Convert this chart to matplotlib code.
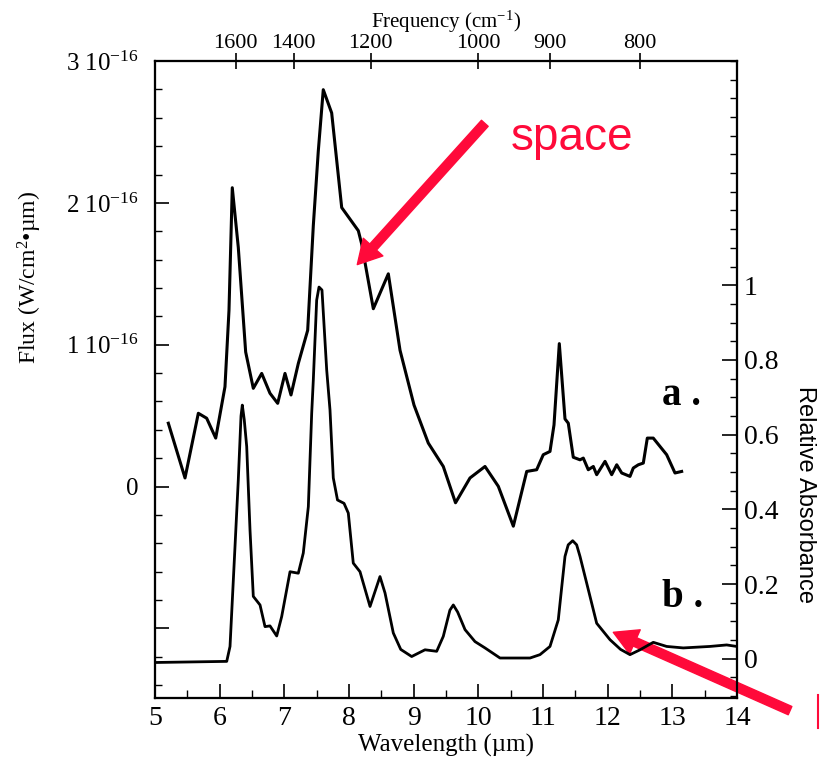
import matplotlib
matplotlib.use("Agg")
import matplotlib.pyplot as plt
from matplotlib.ticker import MultipleLocator

# spectrum a: flux, in units of 1e-16 W/cm2/um
wl_a = [5.206, 5.464, 5.670, 5.799, 5.939, 6.082, 6.144, 6.195, 6.288, 6.402,
        6.520, 6.650, 6.778, 6.897, 7.010, 7.103, 7.216, 7.361, 7.448, 7.525,
        7.602, 7.732, 7.887, 8.144, 8.196, 8.376, 8.608, 8.789, 9.005, 9.226,
        9.458, 9.647, 9.871, 10.103, 10.309, 10.541, 10.748, 10.902, 11.004, 11.108,
        11.170, 11.252, 11.340, 11.391, 11.468, 11.572, 11.623, 11.700, 11.778, 11.830,
        11.959, 12.062, 12.140, 12.217, 12.345, 12.396, 12.474, 12.551, 12.613, 12.705,
        12.912, 13.041, 13.144]
flux_a = [0.447, 0.061, 0.517, 0.482, 0.342, 0.704, 1.242, 2.107, 1.686, 0.949,
          0.693, 0.798, 0.658, 0.587, 0.798, 0.646, 0.868, 1.102, 1.840, 2.365,
          2.798, 2.634, 1.967, 1.804, 1.710, 1.254, 1.500, 0.961, 0.575, 0.307,
          0.142, -0.114, 0.061, 0.142, 0.002, -0.279, 0.107, 0.119, 0.225, 0.248,
          0.435, 1.008, 0.477, 0.447, 0.207, 0.189, 0.201, 0.119, 0.142, 0.084,
          0.178, 0.084, 0.154, 0.096, 0.072, 0.131, 0.154, 0.166, 0.342, 0.342,
          0.225, 0.096, 0.107]

# spectrum b: relative absorbance
wl_b = [5.0, 6.109, 6.160, 6.237, 6.288, 6.330, 6.350, 6.380, 6.418, 6.469,
        6.520, 6.624, 6.701, 6.778, 6.882, 6.959, 7.088, 7.216, 7.293, 7.371,
        7.423, 7.448, 7.500, 7.536, 7.582, 7.655, 7.706, 7.757, 7.822, 7.923,
        7.989, 8.066, 8.170, 8.325, 8.479, 8.557, 8.685, 8.800, 8.969, 9.175,
        9.356, 9.458, 9.560, 9.613, 9.680, 9.794, 9.948, 10.103, 10.335, 10.799,
        10.953, 11.108, 11.236, 11.290, 11.340, 11.390, 11.459, 11.520, 11.572, 11.676,
        11.830, 12.036, 12.200, 12.345, 12.500, 12.705, 12.912, 13.169, 13.582, 13.840,
        13.995]
abs_b = [-0.010, -0.007, 0.033, 0.300, 0.479, 0.650, 0.679, 0.640, 0.568, 0.345,
         0.167, 0.144, 0.086, 0.088, 0.061, 0.113, 0.233, 0.229, 0.283, 0.407,
         0.657, 0.746, 0.960, 0.995, 0.987, 0.773, 0.666, 0.484, 0.425, 0.416,
         0.390, 0.256, 0.233, 0.140, 0.220, 0.176, 0.069, 0.025, 0.006, 0.024,
         0.020, 0.060, 0.130, 0.144, 0.125, 0.078, 0.046, 0.029, 0.002, 0.002,
         0.011, 0.033, 0.104, 0.193, 0.274, 0.305, 0.316, 0.305, 0.274, 0.202,
         0.095, 0.051, 0.025, 0.011, 0.024, 0.044, 0.033, 0.029, 0.033, 0.037,
         0.033]

freq_ticks = [1600, 1400, 1200, 1000, 900, 800]
flux_ticks = [-1, 0, 1, 2, 3]
flux_labels = ["", "0", r"1 10$^{-16}$", r"2 10$^{-16}$", r"3 10$^{-16}$"]
abs_ticks = [0, 0.2, 0.4, 0.6, 0.8, 1]
abs_labels = ["0", "0.2", "0.4", "0.6", "0.8", "1"]

RED = "#ff0a3a"

plt.rcParams["font.family"] = "Liberation Serif"
plt.rcParams["mathtext.fontset"] = "custom"
plt.rcParams["mathtext.rm"] = "Liberation Serif"
plt.rcParams["mathtext.it"] = "Liberation Serif:italic"
plt.rcParams["axes.linewidth"] = 1.5

fig = plt.figure(figsize=(8.21, 7.61), dpi=100)
ax = fig.add_axes([0.1888, 0.0828, 0.7089, 0.8370])
ax2 = ax.twinx()
axt = ax.twiny()

ax.plot(wl_a, flux_a, color="black", lw=2.2)
ax2.plot(wl_b, abs_b, color="black", lw=2.0)

ax.set_xlim(5, 14)
ax.set_ylim(-1.49, 3.0)
ax2.set_ylim(-0.105, 1.6)
axt.set_xlim(5, 14)

# bottom axis
ax.xaxis.set_major_locator(MultipleLocator(1))
ax.xaxis.set_minor_locator(MultipleLocator(0.5))
ax.tick_params(axis="x", which="major", direction="in", length=10, width=1.2,
               labelsize=20, pad=6, top=False)
ax.tick_params(axis="x", which="minor", direction="in", length=5.5, width=1.0, top=False)
ax.set_xlabel("Wavelength (µm)", fontsize=18, labelpad=2)

# left axis
ax.set_yticks(flux_ticks)
ax.set_yticklabels(flux_labels)
ax.yaxis.set_minor_locator(MultipleLocator(0.2))
ax.tick_params(axis="y", which="major", direction="in", length=10, width=1.2,
               labelsize=18, pad=12, right=False)
ax.tick_params(axis="y", which="minor", direction="in", length=5, width=1.0, right=False)
ax.set_ylabel("Flux (W/cm$^2$•µm)", fontsize=17)
ax.yaxis.set_label_coords(-0.19, 0.66)

# right axis
ax2.set_yticks(abs_ticks)
ax2.set_yticklabels(abs_labels)
ax2.yaxis.set_minor_locator(MultipleLocator(0.05))
ax2.tick_params(axis="y", which="major", direction="in", length=10.5, width=1.2,
                labelsize=20, pad=5)
ax2.tick_params(axis="y", which="minor", direction="in", length=5, width=1.0)
ax2.set_ylabel("Relative Absorbance", family="Liberation Sans", fontsize=17,
               rotation=-90)
ax2.yaxis.set_label_coords(1.135, 0.32)

# top axis in wavenumber
axt.set_xticks([1e4 / f for f in freq_ticks])
axt.set_xticklabels([str(f) for f in freq_ticks])
axt.tick_params(axis="x", direction="inout", length=12, width=1.2, labelsize=16, pad=0)
axt.set_xlabel("Frequency (cm$^{-1}$)", fontsize=15, labelpad=4)

ax.text(12.84, 0.64, "a .", fontsize=28, fontweight="bold", va="center")
ax2.text(12.84, 0.165, "b .", fontsize=28, fontweight="bold", va="center")

ax.text(11.45, 2.46, "space", color=RED, family="Liberation Sans", fontsize=33,
        ha="center", va="center")

arrow = dict(arrowstyle="simple,head_length=1.7,head_width=1.9,tail_width=0.65",
             mutation_scale=10, color=RED, shrinkA=0, shrinkB=0)
ax.annotate("", xy=(8.128, 1.565), xytext=(10.10, 2.561), arrowprops=arrow)
ax.annotate("", xy=(12.087, -1.027), xytext=(14.82, -1.579), arrowprops=arrow,
            annotation_clip=False)
ax.plot([15.25, 15.25], [-1.47, -1.70], color=RED, lw=1.5, clip_on=False)

fig.savefig("out.png", dpi=100)
